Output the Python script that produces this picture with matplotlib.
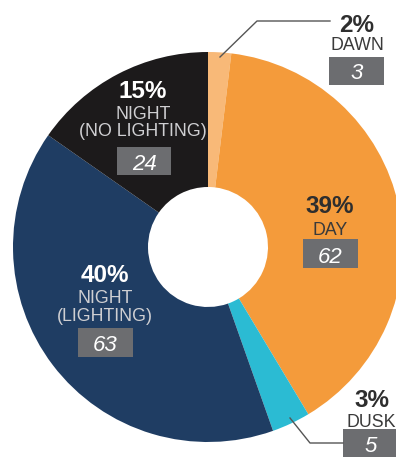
import numpy as np
import matplotlib.pyplot as plt
from matplotlib.patches import Rectangle

# data
categories = ['DAWN', 'DAY', 'DUSK', 'NIGHT\n(LIGHTING)', 'NIGHT\n(NO LIGHTING)']
counts = [3, 62, 5, 63, 24]
colors = ['#F8B978', '#F49B3B', '#2BBBD3', '#1F3D63', '#1C1A1B']

W, H = 396, 457
total = sum(counts)
pcts = [round(100 * c / total) for c in counts]

fig = plt.figure(figsize=(W / 100, H / 100), dpi=100)
ax = fig.add_axes([0, 0, 1, 1])

def Y(py):
    # pixel row -> data y
    return H - py

cx, cy, r_out, r_in = 208, 247, 195, 60
ax.pie(counts, colors=colors, startangle=90, counterclock=False,
       center=(cx, Y(cy)), radius=r_out,
       wedgeprops=dict(width=r_out - r_in, linewidth=0))
ax.set_xlim(0, W)
ax.set_ylim(0, H)
ax.set_aspect('equal')
ax.axis('off')

font = 'Liberation Sans'
box_col = '#6C6D70'

# label layout: (x centre, pct baseline, name baseline(s), box [x0, x1, y0, y1], num baseline, text colours)
layout = {
    0: dict(x=357, pb=32, nb=[50], box=(329, 384, 57, 85), numb=79, pc='#2E2E2E', nc='#3A3A3A'),
    1: dict(x=330, pb=213, nb=[235], box=(303, 358, 239, 268), numb=263, pc='#2E2E2E', nc='#3A3A3A'),
    2: dict(x=372, pb=407, nb=[427], box=(343, 399, 429, 459), numb=452, pc='#2E2E2E', nc='#3A3A3A'),
    3: dict(x=105, pb=282, nb=[303, 321], box=(78, 133, 328, 357), numb=351, pc='white', nc='#CFCFD2'),
    4: dict(x=143, pb=98, nb=[119, 136], box=(117, 171, 147, 175), numb=170, pc='white', nc='#CFCFD2'),
}

for i, lay in layout.items():
    x = lay['x']
    ax.text(x, Y(lay['pb']), f'{pcts[i]}%', ha='center', va='baseline',
            fontsize=17.5, fontweight='bold', family=font, color=lay['pc'])
    for line, b in zip(categories[i].split('\n'), lay['nb']):
        ha, xx = 'center', x
        if i == 2:
            ha, xx = 'left', 347
        ax.text(xx, Y(b), line, ha=ha, va='baseline', fontsize=12.8,
                family=font, color=lay['nc'])
    x0, x1, y0, y1 = lay['box']
    ax.add_patch(Rectangle((x0, Y(y1)), x1 - x0, y1 - y0, color=box_col, lw=0))
    ax.text((x0 + x1) / 2, Y(lay['numb']), str(counts[i]), ha='center',
            va='baseline', fontsize=16, style='italic', family=font,
            color='white')

# leader lines
ax.plot([220, 257, 330], [Y(57), Y(21), Y(21)], color='#555555', lw=1)
ax.plot([290, 310, 343], [Y(418), Y(443), Y(443)], color='#555555', lw=1)

fig.savefig('out.png', dpi=100)
